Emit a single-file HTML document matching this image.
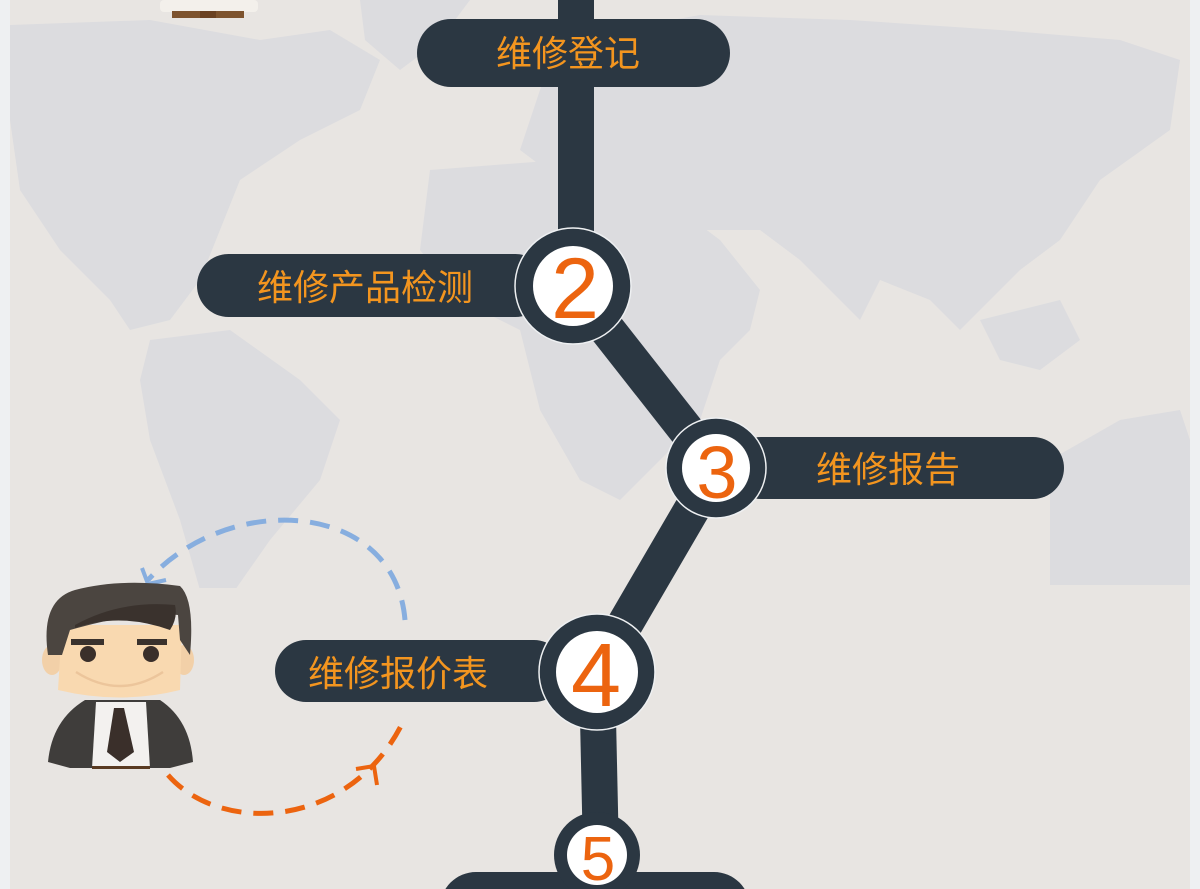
<!DOCTYPE html>
<html><head><meta charset="utf-8"><style>
html,body{margin:0;padding:0;width:1200px;height:889px;overflow:hidden;background:#eef0f2}
svg{display:block}
text{font-family:"Liberation Sans","Noto Sans CJK SC",sans-serif}
</style></head><body>
<svg width="1200" height="889" viewBox="0 0 1200 889" xmlns="http://www.w3.org/2000/svg">
<rect x="10" y="0" width="1180" height="889" fill="#e8e5e2"/>
<g fill="#dcdcdf">
<path d="M10,25 L150,20 L260,40 L330,30 L380,60 L360,110 L300,140 L240,180 L220,230 L200,280 L170,320 L130,330 L110,300 L60,250 L20,190 L10,120 Z"/>
<path d="M360,0 L470,0 L440,40 L400,70 L365,40 Z"/>
<path d="M150,340 L230,330 L300,380 L340,420 L320,480 L270,540 L235,590 L200,590 L180,520 L150,440 L140,380 Z"/>
<path d="M560,40 L700,15 L850,20 L1000,30 L1120,40 L1180,60 L1170,130 L1100,180 L1060,240 L1020,270 L990,300 L960,330 L930,300 L880,280 L860,320 L840,300 L800,260 L760,230 L700,230 L650,210 L600,190 L560,180 L520,150 L540,90 Z"/>
<path d="M430,170 L560,160 L680,210 L720,240 L760,290 L750,330 L720,360 L700,420 L660,460 L620,500 L580,480 L540,410 L520,330 L460,300 L420,250 Z"/>
<path d="M980,320 L1060,300 L1080,340 L1040,370 L1000,360 Z"/>
<path d="M1050,460 L1120,420 L1180,410 L1190,440 L1190,585 L1050,585 Z"/>
</g>
<rect x="1190" y="0" width="10" height="889" fill="#eef0f2"/>
<rect x="0" y="0" width="10" height="889" fill="#eef0f2"/>
<rect x="10" y="588" width="1180" height="301" fill="#e8e5e2"/>

<rect x="160" y="0" width="98" height="12" rx="4" fill="#f3f0eb"/>
<rect x="172" y="11" width="72" height="7" fill="#7d532e"/>
<rect x="200" y="11" width="16" height="7" fill="#6a4121"/>

<g stroke="#2b3742" stroke-width="36" fill="none" stroke-linecap="butt">
<line x1="576" y1="0" x2="576" y2="286"/>
<line x1="573" y1="286" x2="716" y2="468"/>
<line x1="716" y1="468" x2="597" y2="672"/>
<line x1="597" y1="672" x2="601" y2="855"/>
</g>

<g fill="#2b3742">
<rect x="417" y="19" width="313" height="68" rx="34"/>
<rect x="197" y="254" width="350" height="63" rx="31.5"/>
<rect x="730" y="437" width="334" height="62" rx="31"/>
<rect x="275" y="640" width="290" height="62" rx="31"/>
<path d="M440,889 L440,908 A36,36 0 0 1 476,872 L714,872 A36,36 0 0 1 750,908 L750,889 Z"/>
</g>

<g fill="#2b3742" stroke="#eef0f2" stroke-width="1.5">
<circle cx="573" cy="286" r="58"/>
<circle cx="716" cy="468" r="50"/>
<circle cx="597" cy="672" r="58"/>
<circle cx="597" cy="855" r="43" stroke="none"/>
</g>
<g fill="#ffffff">
<circle cx="573" cy="286" r="40"/>
<circle cx="716" cy="468" r="34"/>
<circle cx="597" cy="672" r="41"/>
<circle cx="597" cy="855" r="30"/>
</g>
<g fill="#ec640f" text-anchor="middle">
<text x="575" y="318" font-size="86">2</text>
<text x="717" y="498" font-size="74">3</text>
<text x="596" y="706" font-size="90">4</text>
<text x="598" y="880" font-size="62">5</text>
</g>

<g fill="#f3951f" font-size="36" text-anchor="middle">
<text x="568" y="66">维修登记</text>
<text x="365" y="300">维修产品检测</text>
<text x="888" y="482">维修报告</text>
<text x="398" y="686">维修报价表</text>
</g>

<path d="M405,620 C395,500 230,490 148,580" fill="none" stroke="#87aedf" stroke-width="5" stroke-dasharray="20,12"/>
<path d="M142,568 L148,584 L166,580" fill="none" stroke="#87aedf" stroke-width="4"/>
<path d="M168,775 C220,835 350,830 403,722" fill="none" stroke="#ec640f" stroke-width="5" stroke-dasharray="20,12"/>
<path d="M356,769 L374,766 L377,785" fill="none" stroke="#ec640f" stroke-width="4"/>

<g>
<path d="M48,762 Q52,720 85,700 L160,700 Q190,720 193,762 L170,768 L70,768 Z" fill="#3f3d3b"/>
<path d="M96,702 L146,702 L150,768 L92,768 Z" fill="#f3f1ef"/>
<path d="M114,708 L124,708 L134,752 L120,762 L107,752 Z" fill="#3a2f2a"/>
<rect x="92" y="766" width="58" height="3" fill="#5a3b22"/>
<ellipse cx="52" cy="660" rx="10" ry="15" fill="#f2d0a8"/>
<ellipse cx="184" cy="660" rx="10" ry="15" fill="#f2d0a8"/>
<path d="M62,625 L182,625 L180,690 Q120,705 58,690 Z" fill="#f9d9b0"/>
<path d="M48,655 Q40,600 75,590 Q120,578 180,586 Q195,600 190,655 L180,640 L178,615 Q140,610 70,630 L62,655 Z" fill="#4b4540"/>
<path d="M75,625 Q120,600 175,605 Q178,618 170,630 Q120,612 75,628 Z" fill="#3a322d"/>
<rect x="71" y="639" width="33" height="6" fill="#3a322d"/>
<rect x="137" y="639" width="30" height="6" fill="#3a322d"/>
<circle cx="88" cy="654" r="8" fill="#3a2f2a"/>
<circle cx="151" cy="654" r="8" fill="#3a2f2a"/>
<path d="M76,672 Q120,700 163,672" fill="none" stroke="#ecc59b" stroke-width="2.5"/>
</g>
</svg>
</body></html>
